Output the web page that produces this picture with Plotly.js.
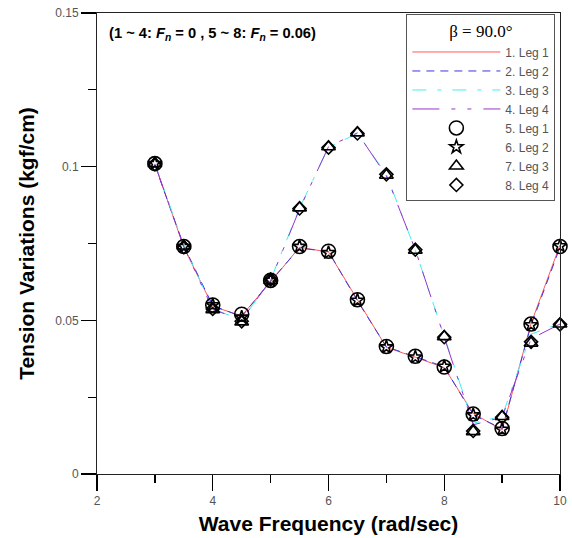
<!DOCTYPE html>
<html><head><meta charset="utf-8">
<script src="https://cdn.plot.ly/plotly-3.0.1.min.js"></script>
<style>html,body{margin:0;padding:0;background:#fff}#c{width:572px;height:538px}</style>
</head><body><div id="c"></div>
<script>
const freq = [3,3.5,4,4.5,5,5.5,6,6.5,7,7.5,8,8.5,9,9.5,10];
// Fn = 0 (lines)
const line1 = [0.1008,0.0738,0.0545,0.0515,0.0625,0.0738,0.0722,0.0565,0.0412,0.0380,0.0346,0.0197,0.0143,0.0490,0.0745];
const line2 = [0.1005,0.0742,0.0548,0.0512,0.0628,0.0735,0.0724,0.0563,0.0414,0.0382,0.0349,0.0192,0.0148,0.0484,0.0738];
const line3 = [0.1010,0.0745,0.0538,0.0500,0.0632,0.0865,0.1063,0.1108,0.0975,0.0728,0.0448,0.0165,0.0188,0.0455,0.0490];
const line4 = [0.1008,0.0740,0.0535,0.0502,0.0630,0.0862,0.1065,0.1110,0.0970,0.0730,0.0445,0.0160,0.0185,0.0440,0.0488];
// Fn = 0.06 (markers)
const mark1 = [0.1010,0.0740,0.0550,0.0520,0.0630,0.0740,0.0725,0.0567,0.0415,0.0383,0.0348,0.0195,0.0148,0.0488,0.0740];
const mark2 = [0.1010,0.0740,0.0550,0.0510,0.0630,0.0740,0.0720,0.0565,0.0413,0.0380,0.0350,0.0192,0.0145,0.0485,0.0742];
const mark3 = [0.1010,0.0742,0.0535,0.0495,0.0630,0.0866,0.1065,0.1110,0.0972,0.0728,0.0447,0.0138,0.0187,0.0426,0.0488];
const mark4 = [0.1008,0.0738,0.0537,0.0497,0.0633,0.0864,0.1062,0.1108,0.0975,0.0730,0.0445,0.0140,0.0185,0.0430,0.0487];
const names = ['1. Leg 1','2. Leg 2','3. Leg 3','4. Leg 4','5. Leg 1','6. Leg 2','7. Leg 3','8. Leg 4'];

const lineStyles = [
  {color:'#ff5a5a', dash:'solid'},
  {color:'#3838e0', dash:'8px,6px'},
  {color:'#40f0f0', dash:'14px,11px,4px,11px'},
  {color:'#9933cc', dash:'27px,12px,4px,12px,4px,12px'}
];
const symbols = ['circle-open','star-open','triangle-up-open','diamond-open'];
const msizes = [14,10,12,10];
const lineData = [line1,line2,line3,line4];
const markData = [mark1,mark2,mark3,mark4];
const traces = [];
lineData.forEach((d,i)=>traces.push({x:freq,y:d,mode:'lines',name:names[i],
  line:{color:lineStyles[i].color,dash:lineStyles[i].dash,width:1}}));
markData.forEach((d,i)=>traces.push({x:freq,y:d,mode:'markers',name:names[i+4],cliponaxis:false,
  marker:{symbol:symbols[i],size:msizes[i],color:'#000',line:{color:'#000',width:1.6}}}));

const layout = {
  width:572,height:538,
  margin:{l:97,r:12,t:13,b:64},
  paper_bgcolor:'#fff',plot_bgcolor:'#fff',
  font:{family:'Arial, Liberation Sans, sans-serif',size:12,color:'#555'},
  xaxis:{range:[2,10],showgrid:false,zeroline:false,showline:true,mirror:true,linecolor:'#222',linewidth:1,
    dtick:2,ticks:'outside',ticklen:16,tickcolor:'#000',tickwidth:1.3,
    minor:{dtick:1,ticks:'outside',ticklen:8,tickcolor:'#000',tickwidth:1.3},
    tickfont:{size:12,color:'#555'},
    title:{text:'<b>Wave Frequency (rad/sec)</b>',font:{size:21,color:'#000'},standoff:8}},
  yaxis:{range:[0,0.15],showgrid:false,zeroline:false,showline:true,mirror:true,linecolor:'#222',linewidth:1,
    dtick:0.05,tickformat:'~g',ticks:'outside',ticklen:15,tickcolor:'#000',tickwidth:1.3,
    minor:{dtick:0.025,ticks:'outside',ticklen:8,tickcolor:'#000',tickwidth:1.3},
    tickfont:{size:12,color:'#555'},
    title:{text:'<b>Tension Variations (kgf/cm)</b>',font:{size:21,color:'#000'},standoff:14}},
  showlegend:true,
  legend:{x:0.99,y:0.997,xanchor:'right',yanchor:'top',bordercolor:'#555',borderwidth:1,bgcolor:'#fff',
    font:{size:12,color:'#555'},itemwidth:88,tracegroupgap:0,
    title:{text:'β = 90.0°',side:'top center',font:{family:'Liberation Serif, Times New Roman, serif',size:17,color:'#000'}}},
  annotations:[{xref:'paper',yref:'paper',x:0.022,y:0.978,xanchor:'left',yanchor:'top',showarrow:false,
    text:'<b>(1 ~ 4: <i>F<sub>n</sub></i> = 0 , 5 ~ 8: <i>F<sub>n</sub></i> = 0.06)</b>',
    font:{size:14.7,color:'#000'}}]
};
Plotly.newPlot('c',traces,layout,{displayModeBar:false,staticPlot:true});
</script></body></html>
